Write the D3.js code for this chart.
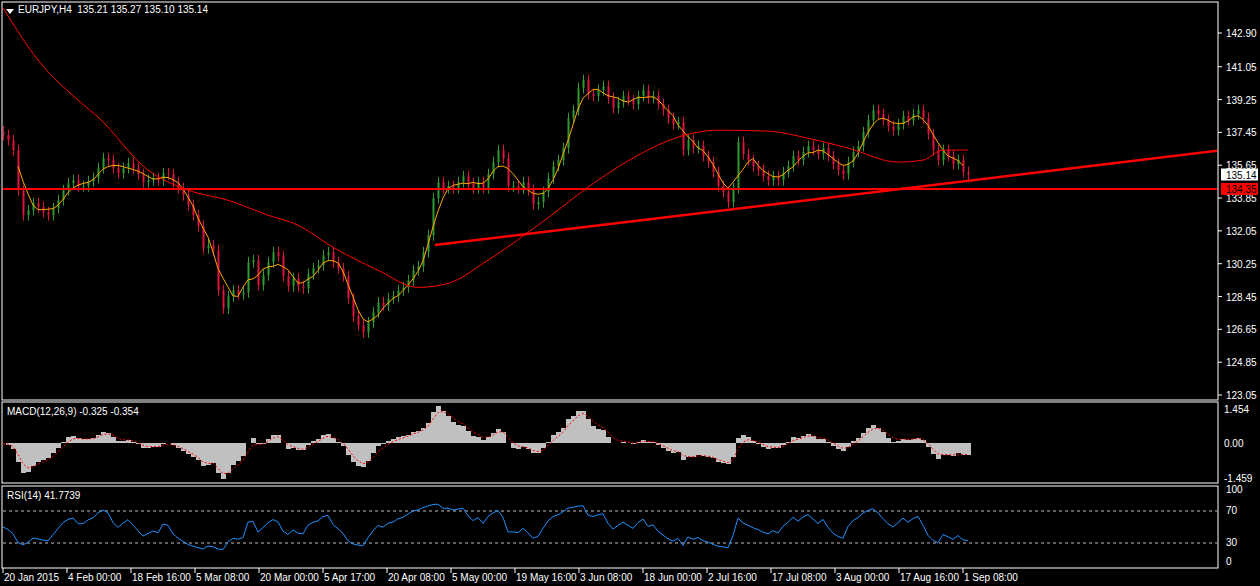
<!DOCTYPE html>
<html>
<head>
<meta charset="utf-8">
<script src="https://cdn.jsdelivr.net/npm/d3@7"></script>
<style>
  body { margin: 0; background: #000; }
  text { font-family: "Liberation Sans", sans-serif; font-size: 10px; fill: #fff; }
</style>
</head>
<body>
<div class="chart"></div>
<script>
// closes of each candle (left to right), EURJPY H4
const closes = [137.30,137.03,136.48,134.28,132.91,133.18,133.57,133.35,133.07,132.91,
  133.29,133.73,134.28,134.66,134.83,134.50,134.50,134.77,134.94,135.49,
  136.04,135.93,135.49,135.21,135.49,135.76,135.49,135.16,134.72,134.83,
  134.94,134.83,135.21,135.16,134.72,134.39,134.01,133.46,132.91,132.30,
  131.10,131.26,130.99,128.79,127.80,128.46,128.79,128.57,128.68,130.33,
  130.44,129.07,129.62,130.33,130.88,130.66,129.56,129.01,129.45,129.01,
  128.90,129.67,130.00,130.16,130.71,130.88,130.33,130.00,129.56,128.35,
  127.36,126.87,126.48,127.03,127.58,128.13,127.96,128.35,128.46,128.79,
  128.95,129.34,129.89,130.11,130.88,131.81,133.84,134.72,134.39,134.50,
  134.39,134.72,135.05,134.66,134.39,134.72,134.39,135.16,135.82,136.48,
  136.04,134.50,134.50,134.39,134.72,134.28,133.51,133.62,134.17,134.94,
  135.60,135.93,136.59,138.23,138.67,139.88,140.32,139.55,139.44,139.77,
  139.99,139.33,138.78,139.11,139.44,139.22,139.00,139.44,139.77,139.33,
  139.44,139.00,138.67,138.23,137.90,138.01,136.48,137.03,136.59,136.70,
  136.15,135.82,135.27,134.50,134.17,133.62,134.39,136.92,136.26,135.93,
  135.60,135.38,135.05,134.83,135.05,134.83,135.27,135.60,136.15,135.93,
  136.37,136.70,136.48,136.26,136.59,136.15,135.71,135.38,135.16,135.82,
  136.37,136.70,137.46,138.12,138.67,138.45,138.12,137.79,137.57,137.90,
  138.34,138.12,138.45,138.67,138.23,137.35,136.48,135.93,136.48,136.15,
  135.71,135.93,135.27,135.14];
// slow moving average: [candle index, price]
const slowMA = [[0,144.27],[7,141.42],[15,139.22],[19,138.29],[29,135.38],[37,134.28],
  [45,133.73],[53,132.91],[59,132.36],[66,131.15],[75,129.89],[83,128.95],[89,129.17],
  [97,130.44],[107,132.36],[119,134.83],[127,136.20],[135,137.19],[143,137.57],
  [153,137.52],[161,137.13],[169,136.59],[179,135.82],[184,135.93],[188,136.48],[193,136.48]];
const priceTicks = [142.90,141.05,139.25,137.45,135.65,133.85,132.05,130.25,128.45,126.65,124.85,123.05];
const timeLabels = ["20 Jan 2015","4 Feb 00:00","18 Feb 16:00","5 Mar 08:00","20 Mar 00:00","5 Apr 17:00",
  "20 Apr 08:00","5 May 00:00","19 May 16:00","3 Jun 08:00","18 Jun 00:00","2 Jul 16:00",
  "17 Jul 08:00","3 Aug 00:00","17 Aug 16:00","1 Sep 08:00"];
const timeIdx = [0,12.8,25.6,38.4,51.2,64,76.8,89.6,102.4,115.2,128,140.8,153.6,166.4,179.2,192];
const supportLevel = 134.35;
const trendLine = [[86.4,131.27],[243,136.45]];
const lastPrice = 135.14;

const W = 1260, H = 586;
const svg = d3.select(".chart").append("svg").attr("width", W).attr("height", H)
  .style("background", "#000");

const x = d3.scaleLinear().domain([0, 1]).range([3, 8]);
const y = d3.scaleLinear().domain([123.05, 142.90]).range([395, 33]);

// panels
const panels = [[2, 2, 398], [2, 402, 81], [2, 486, 82]];
panels.forEach(p => svg.append("rect").attr("x", p[0]).attr("y", p[1]).attr("width", 1216).attr("height", p[2])
  .attr("fill", "none").attr("stroke", "#fff").attr("stroke-width", 1));

const main = svg.append("g").attr("clip-path", "url(#clipMain)");
svg.append("clipPath").attr("id", "clipMain").append("rect").attr("x", 3).attr("y", 3).attr("width", 1214).attr("height", 396);

// candles
const candles = closes.map((c, i) => {
  const o = i ? closes[i - 1] : c + 0.2;
  return { i, o, c, h: Math.max(o, c) + 0.3, l: Math.min(o, c) - 0.3 };
});
main.selectAll(".wick").data(candles).enter().append("line")
  .attr("x1", d => x(d.i) + 0.5).attr("x2", d => x(d.i) + 0.5)
  .attr("y1", d => y(d.h)).attr("y2", d => y(d.l))
  .attr("stroke", d => d.c >= d.o ? "#2f9a2f" : "#dc143c");
main.selectAll(".body").data(candles).enter().append("rect")
  .attr("x", d => x(d.i) - 0.5).attr("width", 2)
  .attr("y", d => y(Math.max(d.o, d.c)))
  .attr("height", d => Math.max(1, Math.abs(y(d.o) - y(d.c))))
  .attr("fill", d => d.c >= d.o ? "#2f9a2f" : "#dc143c");

// fast MA (5 candles)
const fast = closes.map((c, i) => i < 4 ? null : [i - 1, d3.mean(closes.slice(i - 4, i + 1))]).filter(Boolean);
const line = d3.line().x(d => x(d[0])).y(d => y(d[1]));
main.append("path").attr("d", line(fast)).attr("fill", "none").attr("stroke", "#ffa500").attr("stroke-width", 1);
main.append("path").attr("d", line.curve(d3.curveMonotoneX)(slowMA)).attr("fill", "none").attr("stroke", "#ff0000").attr("stroke-width", 1);

// horizontal support and rising trend line
main.append("line").attr("x1", 3).attr("x2", 1218).attr("y1", y(supportLevel)).attr("y2", y(supportLevel))
  .attr("stroke", "#ff0000").attr("stroke-width", 2);
main.append("line").attr("x1", x(trendLine[0][0])).attr("x2", x(trendLine[1][0]))
  .attr("y1", y(trendLine[0][1])).attr("y2", y(trendLine[1][1]))
  .attr("stroke", "#ff0000").attr("stroke-width", 2.5);

// price axis
priceTicks.forEach(p => {
  svg.append("line").attr("x1", 1218).attr("x2", 1222).attr("y1", y(p)).attr("y2", y(p)).attr("stroke", "#fff");
  svg.append("text").attr("x", 1226).attr("y", y(p) + 4).text(p.toFixed(2));
});
svg.append("rect").attr("x", 1221).attr("y", y(lastPrice) - 6).attr("width", 37).attr("height", 12).attr("fill", "#fff");
svg.append("text").attr("x", 1226).attr("y", y(lastPrice) + 4).text(lastPrice.toFixed(2)).style("fill", "#000");
svg.append("rect").attr("x", 1221).attr("y", y(supportLevel) - 6).attr("width", 37).attr("height", 12).attr("fill", "#ff0000");
svg.append("text").attr("x", 1226).attr("y", y(supportLevel) + 4).text(supportLevel.toFixed(2)).style("fill", "#000");

svg.append("path").attr("d", "M6,9 L14,9 L10,14 Z").attr("fill", "#fff");
svg.append("text").attr("x", 18).attr("y", 13).text("EURJPY,H4  135.21 135.27 135.10 135.14").style("white-space", "pre");

// MACD
const ema = (arr, n) => { const k = 2 / (n + 1); let e = arr[0]; return arr.map(v => (e = v * k + e * (1 - k))); };
const ef = ema(closes, 3), es = ema(closes, 7);
const macd = closes.map((c, i) => ef[i] - es[i]);
const sig = ema(macd, 3);
const ym = d3.scaleLinear().domain([-1.459, 1.454]).range([478, 409]);
svg.selectAll(".mh").data(macd).enter().append("rect")
  .attr("x", (d, i) => x(i) - 2.5).attr("width", 5.3)
  .attr("y", d => Math.min(ym(d), ym(0))).attr("height", d => Math.abs(ym(d) - ym(0)))
  .attr("fill", "#c0c0c0").attr("shape-rendering", "crispEdges");
svg.append("path").attr("d", d3.line().x((d, i) => x(i)).y(d => ym(d))(sig))
  .attr("fill", "none").attr("stroke", "#ff0000").attr("stroke-dasharray", "2,2");
[[1.454, "1.454"], [0, "0.00"], [-1.459, "-1.459"]].forEach(t => {
  svg.append("text").attr("x", 1224).attr("y", ym(t[0]) + 4).text(t[1]);
});
svg.append("text").attr("x", 7).attr("y", 415).text("MACD(12,26,9) -0.325 -0.354");

// RSI
const rsi = [];
let ag = 0.3, al = 0.3; const n = 5;
closes.forEach((c, i) => {
  if (i === 0) { rsi.push(50); return; }
  const ch = c - closes[i - 1];
  ag = (ag * (n - 1) + Math.max(ch, 0)) / n;
  al = (al * (n - 1) + Math.max(-ch, 0)) / n;
  rsi.push(al === 0 ? 100 : 100 - 100 / (1 + ag / al));
});
const yr = d3.scaleLinear().domain([0, 100]).range([567, 487]);
[70, 30].forEach(v => svg.append("line").attr("x1", 3).attr("x2", 1217).attr("y1", yr(v)).attr("y2", yr(v))
  .attr("stroke", "#c0c0c0").attr("stroke-dasharray", "3,3"));
svg.append("path").attr("d", d3.line().x((d, i) => x(i)).y(d => yr(d * 0.6 + 20))(rsi))
  .attr("fill", "none").attr("stroke", "#1e90ff").attr("stroke-width", 1);
[[100, 493], [70, 514], [30, 546], [0, 565]].forEach(t => svg.append("text").attr("x", 1226).attr("y", t[1]).text(t[0]));
svg.append("text").attr("x", 7).attr("y", 499).text("RSI(14) 41.7739");

// time axis
timeLabels.forEach((t, k) => {
  const tx = x(timeIdx[k]);
  svg.append("line").attr("x1", tx).attr("x2", tx).attr("y1", 568).attr("y2", 573).attr("stroke", "#fff");
  svg.append("text").attr("x", tx + 1).attr("y", 581).text(t);
});
</script>
</body>
</html>
